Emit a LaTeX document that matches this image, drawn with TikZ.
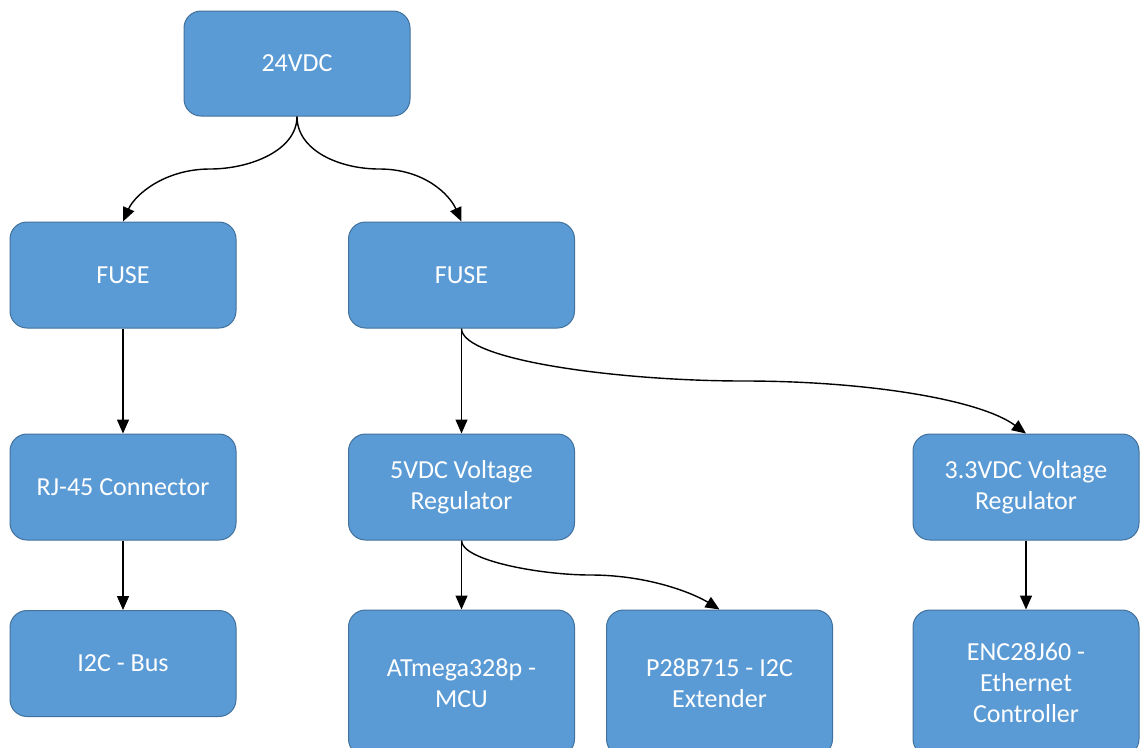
\documentclass[tikz,border=0pt]{standalone}
\usepackage{fontspec}
\setmainfont{Carlito}
\usetikzlibrary{arrows.meta,calc}
\definecolor{boxfill}{HTML}{5B9BD5}
\definecolor{boxline}{HTML}{41719C}
\begin{document}
\begin{tikzpicture}[x=1pt,y=-1pt,
  blk/.style={draw=boxline, line width=1pt, fill=boxfill, rounded corners=17pt,
    minimum width=226pt, minimum height=106pt, inner sep=0pt, text=white,
    align=center, font=\fontsize{26}{31}\selectfont},
  tall/.style={blk, minimum height=146pt},
  conn/.style={line width=1.4pt, -{Triangle[length=14pt,width=12pt]}}]
\clip (0,0) rectangle (1140,747);
\fill[white] (0,0) rectangle (1140,747);
\node[blk, minimum height=105pt] (top) at (297,63.5) {24VDC};
\node[blk] (fuseL) at (123,275) {FUSE};
\node[blk] (fuseR) at (461.5,275) {FUSE};
\node[blk] (rj) at (123,487) {RJ-45 Connector};
\node[blk] (v5) at (461.5,487) {5VDC Voltage\\Regulator};
\node[blk] (v33) at (1026,487) {3.3VDC Voltage\\Regulator};
\node[blk] (i2c) at (123,663.5) {I2C - Bus};
\node[tall] (atm) at (461.5,683) {ATmega328p -\\MCU};
\node[tall] (p28) at (719.5,683) {P28B715 - I2C\\Extender};
\node[tall] (enc) at (1026,683) {ENC28J60 -\\Ethernet\\Controller};
\draw[conn] (top.south) .. controls +(0,34) and +(40,0) .. ($(top.south)!0.5!(fuseL.north)$) .. controls +(-45,0) and +(12,-27) .. (fuseL.north);
\draw[conn] (top.south) .. controls +(0,34) and +(-40,0) .. ($(top.south)!0.5!(fuseR.north)$) .. controls +(45,0) and +(-12,-27) .. (fuseR.north);
\draw[conn] (fuseL) -- (rj);
\draw[conn] (rj) -- (i2c);
\draw[conn] (fuseR) -- (v5);
\draw[conn] (fuseR.south) .. controls +(0,32) and +(-123,0) .. ($(fuseR.south)!0.5!(v33.north)$) .. controls +(123,0) and +(-46,-34) .. (v33.north);
\draw[conn] (v5) -- (atm);
\draw[conn] (v5.south) .. controls +(0,20) and +(-50,0) .. ($(v5.south)!0.5!(p28.north)$) .. controls +(60,0) and +(-24,-15) .. (p28.north);
\draw[conn] (v33) -- (enc);
\end{tikzpicture}
\end{document}
